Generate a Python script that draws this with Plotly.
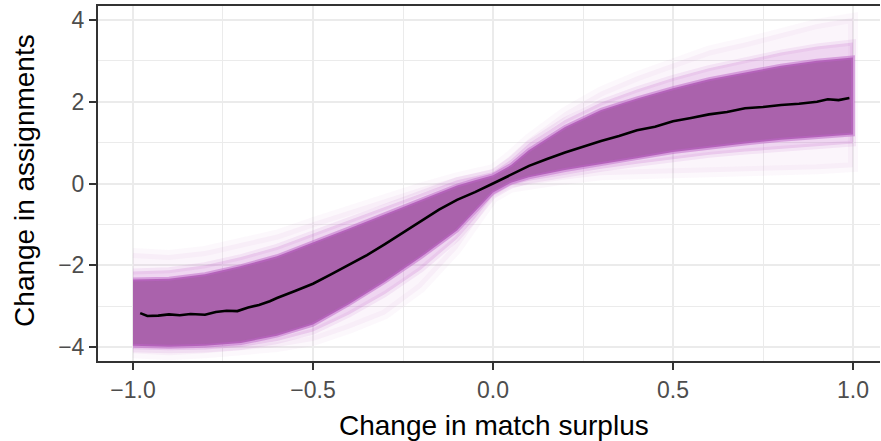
import plotly.graph_objects as go

# Mean change in assignments by change in match surplus
mean_x = [-0.98, -0.96, -0.93, -0.90, -0.87, -0.84, -0.80, -0.77, -0.74, -0.71,
          -0.68, -0.65, -0.62, -0.60, -0.55, -0.50, -0.45, -0.40, -0.35, -0.30,
          -0.25, -0.20, -0.15, -0.10, -0.05, 0.00, 0.05, 0.10, 0.15, 0.20,
          0.25, 0.30, 0.35, 0.40, 0.45, 0.50, 0.55, 0.60, 0.65, 0.70,
          0.75, 0.80, 0.85, 0.90, 0.93, 0.96, 0.99]
mean_y = [-3.17, -3.24, -3.23, -3.20, -3.22, -3.19, -3.21, -3.14, -3.11, -3.12,
          -3.03, -2.97, -2.88, -2.80, -2.63, -2.45, -2.22, -1.98, -1.75, -1.48,
          -1.20, -0.92, -0.64, -0.40, -0.21, 0.00, 0.22, 0.43, 0.60, 0.76,
          0.90, 1.04, 1.16, 1.30, 1.39, 1.52, 1.60, 1.69, 1.75, 1.84,
          1.87, 1.92, 1.95, 2.00, 2.06, 2.04, 2.09]

# Extent of the simulated draws: dense core, its fringe, and the sparse outer cloud
band_x = [-1.00, -0.90, -0.80, -0.70, -0.60, -0.50, -0.40, -0.30, -0.20, -0.10,
          -0.05, 0.00, 0.05, 0.10, 0.20, 0.30, 0.40, 0.50, 0.60, 0.70,
          0.80, 0.90, 1.00]
core_hi = [-2.35, -2.33, -2.22, -2.02, -1.78, -1.45, -1.10, -0.75, -0.40, -0.05,
           0.08, 0.20, 0.45, 0.82, 1.38, 1.80, 2.08, 2.33, 2.55, 2.72,
           2.88, 3.00, 3.08]
core_lo = [-3.97, -3.99, -3.97, -3.90, -3.72, -3.45, -2.95, -2.40, -1.80, -1.15,
           -0.70, -0.22, 0.02, 0.15, 0.33, 0.48, 0.62, 0.77, 0.88, 0.98,
           1.07, 1.14, 1.20]
fringe_hi = [-2.15, -2.12, -2.00, -1.80, -1.55, -1.22, -0.88, -0.55, -0.22, 0.08,
             0.18, 0.28, 0.58, 0.98, 1.55, 1.98, 2.30, 2.58, 2.82, 3.02,
             3.20, 3.35, 3.45]
fringe_lo = [-4.05, -4.08, -4.06, -4.00, -3.85, -3.62, -3.20, -2.70, -2.10, -1.35,
             -0.85, -0.30, -0.05, 0.07, 0.22, 0.36, 0.48, 0.60, 0.70, 0.78,
             0.86, 0.92, 0.98]
cloud_hi = [-1.70, -1.75, -1.65, -1.45, -1.25, -0.95, -0.65, -0.35, -0.10, 0.15,
            0.25, 0.35, 0.70, 1.10, 1.75, 2.25, 2.62, 2.95, 3.25, 3.45,
            3.70, 3.90, 4.05]
cloud_lo = [-4.15, -4.20, -4.15, -4.10, -4.00, -3.85, -3.55, -3.20, -2.55, -1.60,
            -0.95, -0.35, -0.10, 0.00, 0.10, 0.20, 0.22, 0.25, 0.30, 0.32,
            0.33, 0.35, 0.40]

x_ticks = [-1.0, -0.5, 0.0, 0.5, 1.0]
x_labels = ["\u22121.0", "\u22120.5", "0.0", "0.5", "1.0"]
y_ticks = [-4, -2, 0, 2, 4]
y_labels = ["\u22124", "\u22122", "0", "2", "4"]

PURPLE = "rgb(170,98,172)"
FONT = "Liberation Sans, Arial"


def band(lo, hi):
    return band_x + band_x[::-1], hi + lo[::-1]


fig = go.Figure()

layers = [
    (cloud_lo, cloud_hi, "rgba(195,115,205,0.07)", "rgba(195,115,205,0.05)", 10),
    (fringe_lo, fringe_hi, "rgba(195,105,205,0.22)", "rgba(195,105,205,0.12)", 6),
    (core_lo, core_hi, PURPLE, "rgba(190,100,200,0.5)", 4),
]
for lo, hi, fill, edge, w in layers:
    bx, by = band(lo, hi)
    fig.add_trace(go.Scatter(x=bx, y=by, fill="toself", mode="lines",
                             fillcolor=fill, line=dict(color=edge, width=w),
                             hoverinfo="skip", showlegend=False))

fig.add_trace(go.Scatter(x=mean_x, y=mean_y, mode="lines",
                         line=dict(color="black", width=2.6),
                         hoverinfo="skip", showlegend=False))

axis_common = dict(
    showline=True, linecolor="#333333", linewidth=2,
    ticks="outside", ticklen=7, tickwidth=2, tickcolor="#333333",
    showgrid=True, gridcolor="#EBEBEB", gridwidth=2,
    zeroline=False,
    tickfont=dict(family=FONT, size=23, color="#4D4D4D"),
)

fig.update_layout(
    width=881, height=441,
    margin=dict(l=98, r=1, t=6, b=80),
    paper_bgcolor="white", plot_bgcolor="white",
    xaxis=dict(range=[-1.0972, 1.075], tickvals=x_ticks, ticktext=x_labels,
               mirror=True,
               minor=dict(tickvals=[-0.75, -0.25, 0.25, 0.75], showgrid=True,
                          gridcolor="#EBEBEB", gridwidth=1, ticks=""),
               **axis_common),
    yaxis=dict(range=[-4.34, 4.34], tickvals=y_ticks, ticktext=y_labels,
               mirror=False,
               minor=dict(tickvals=[-3, -1, 1, 3], showgrid=True,
                          gridcolor="#EBEBEB", gridwidth=1, ticks=""),
               **axis_common),
    annotations=[
        dict(text="Change in match surplus", xref="paper", yref="paper",
             x=0.5064, y=-0.183, xanchor="center", yanchor="middle",
             showarrow=False, font=dict(family=FONT, size=28, color="black")),
        dict(text="Change in assignments", xref="paper", yref="paper",
             x=-0.0934, y=0.51, xanchor="center", yanchor="middle",
             textangle=-90, showarrow=False,
             font=dict(family=FONT, size=28, color="black")),
    ],
)

fig.write_html("out.html")
